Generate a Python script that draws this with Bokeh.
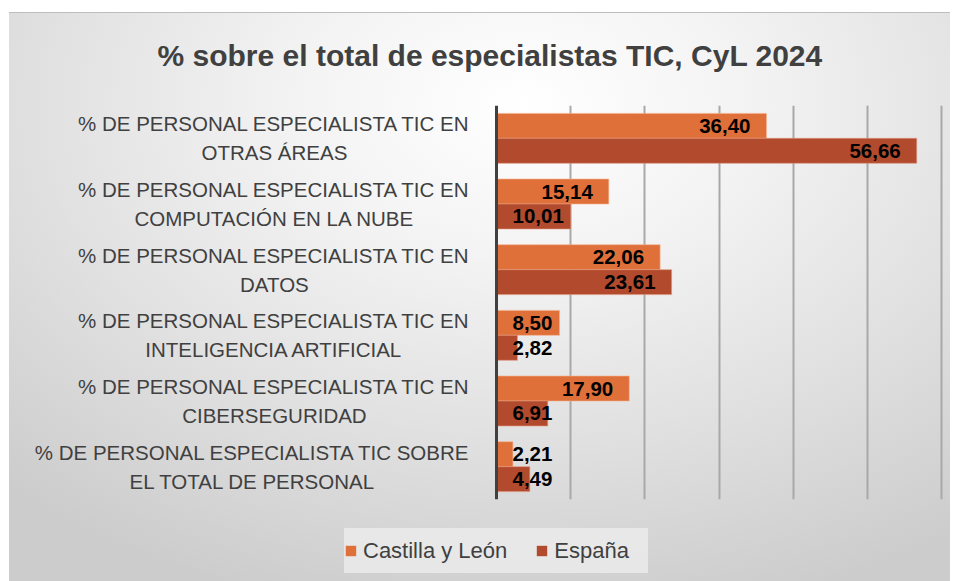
from bokeh.plotting import figure
from bokeh.layouts import column
from bokeh.models import (ColumnDataSource, FactorRange, Range1d, FixedTicker, Grid,
                          Legend, LegendItem, Span)
from bokeh.transform import dodge
from bokeh.embed import file_html
from bokeh.resources import INLINE
from bokeh.core.properties import value

# ---------------- data ----------------
categories = [
    "% DE PERSONAL ESPECIALISTA TIC EN\nOTRAS ÁREAS",
    "% DE PERSONAL ESPECIALISTA TIC EN\nCOMPUTACIÓN EN LA NUBE",
    "% DE PERSONAL ESPECIALISTA TIC EN\nDATOS",
    "% DE PERSONAL ESPECIALISTA TIC EN\nINTELIGENCIA ARTIFICIAL",
    "% DE PERSONAL ESPECIALISTA TIC EN\nCIBERSEGURIDAD",
    "% DE PERSONAL ESPECIALISTA TIC SOBRE\nEL TOTAL DE PERSONAL",
]
castilla_leon = [36.40, 15.14, 22.06, 8.50, 17.90, 2.21]
espana = [56.66, 10.01, 23.61, 2.82, 6.91, 4.49]
series_names = ["Castilla y León", "España"]
title_text = "% sobre el total de especialistas TIC, CyL 2024"
x_max = 60
x_step = 10

# ---------------- style ----------------
COL_CYL = "#E0703A"
COL_ESP = "#B24A2E"
TXT = "#404040"
FONT = "Liberation Sans"
CAT_FS = 20.5

W = 950
H_MAIN, H_LEG = 520, 61
AXIS_X = 496            # pixel column of the value axis
B_LEFT, B_RIGHT, B_TOP, B_BOTTOM = 9, 7, 105, 21
frame_w = W - B_LEFT - B_RIGHT
px_per_unit = (W - B_RIGHT - 2 - AXIS_X) / x_max
x_start = -(AXIS_X - B_LEFT) / px_per_unit
x_end = x_start + frame_w / px_per_unit

p = figure(width=W, height=H_MAIN, output_backend="svg", toolbar_location=None,
           y_range=FactorRange(factors=list(reversed(categories)), range_padding=0),
           x_range=Range1d(x_start, x_end),
           x_axis_location=None, y_axis_location=None,
           min_border_left=B_LEFT, min_border_right=B_RIGHT,
           min_border_top=B_TOP, min_border_bottom=B_BOTTOM)
p.border_fill_color = None
p.background_fill_color = None
p.outline_line_color = None
p.center = [r for r in p.center if not isinstance(r, Grid)]

# vertical grid lines at 10, 20, ... 60
p.add_layout(Grid(dimension=0, ticker=FixedTicker(ticks=list(range(x_step, x_max + 1, x_step))),
                  grid_line_color="#a8a8a8", grid_line_width=2))
# value axis line at 0
p.add_layout(Span(location=0, dimension="height", line_color="#404040", line_width=3))

src = ColumnDataSource(dict(cat=categories, cyl=castilla_leon, esp=espana))

off = 0.19
bh = 0.38
r1 = p.hbar(y=dodge("cat", off, range=p.y_range), left=0, right="cyl", height=bh,
            source=src, fill_color=COL_CYL, line_color="#f4b08a", line_width=1, line_alpha=0.6)
r2 = p.hbar(y=dodge("cat", -off, range=p.y_range), left=0, right="esp", height=bh,
            source=src, fill_color=COL_ESP, line_color="#e0957a", line_width=1, line_alpha=0.6)

# data labels: inside end, pushed right when too small
LBL_FS = 20.5
pad = 16 / px_per_unit
def label_sources(vals):
    right = dict(cat=[], x=[], t=[])
    left = dict(cat=[], x=[], t=[])
    for c, v in zip(categories, vals):
        t = f"{v:.2f}".replace(".", ",")
        w = 10.4 * len(t) / px_per_unit
        if v - pad - w < pad:
            left["cat"].append(c); left["x"].append(pad); left["t"].append(t)
        else:
            right["cat"].append(c); right["x"].append(v - pad); right["t"].append(t)
    return ColumnDataSource(right), ColumnDataSource(left)

for vals, o in ((castilla_leon, off), (espana, -off)):
    rs, ls = label_sources(vals)
    for s, al in ((rs, "right"), (ls, "left")):
        p.text(x="x", y=dodge("cat", o, range=p.y_range), text="t", source=s,
               text_align=al, text_baseline="middle", text_color="black",
               text_font=value(FONT), text_font_style="bold", text_font_size=f"{LBL_FS}px")

# category labels: block right-aligned next to the axis, lines centred
ARIAL = {" ": 278, "%": 889, "A": 667, "B": 667, "C": 722, "D": 722, "E": 667, "F": 611,
         "G": 778, "H": 722, "I": 278, "L": 556, "M": 833, "N": 722, "O": 778, "P": 667,
         "R": 722, "S": 667, "T": 611, "U": 722, "Y": 667, "Á": 667, "Ó": 778}
def text_w(s):
    return sum(ARIAL.get(ch, 600) for ch in s) / 1000 * CAT_FS
right_edge_px = 25     # gap between label block and axis
cx = []
for c in categories:
    wmax = max(text_w(line) for line in c.split("\n"))
    cx.append(-(right_edge_px + wmax / 2) / px_per_unit)
p.text(x=cx, y=categories, text=categories, text_align="center", text_baseline="middle",
       text_font=value(FONT), text_font_size=f"{CAT_FS}px", text_color=TXT,
       text_line_height=1.25)

# title
p.title.text = title_text
p.title.align = "left"
p.title.offset = 157 - B_LEFT
p.title.standoff = 68
p.title.text_font = FONT
p.title.text_font_style = "bold"
p.title.text_font_size = "30px"
p.title.text_color = TXT

# legend strip
pl = figure(width=W, height=H_LEG, output_backend="svg", toolbar_location=None,
            x_range=Range1d(0, 1), y_range=Range1d(0, 1),
            x_axis_location=None, y_axis_location=None, min_border=0)
pl.border_fill_color = None
pl.background_fill_color = None
pl.outline_line_color = None
pl.center = [r for r in pl.center if not isinstance(r, Grid)]
l1 = pl.hbar(y="cat", right="cyl", height=1, source=src, fill_color=COL_CYL,
             line_color=None, visible=False)
l2 = pl.hbar(y="cat", right="esp", height=1, source=src, fill_color=COL_ESP,
             line_color=None, visible=False)
legend = Legend(items=[LegendItem(label=series_names[0], renderers=[l1]),
                       LegendItem(label=series_names[1], renderers=[l2])],
                orientation="horizontal", location=(335, 8),
                label_text_font=FONT, label_text_font_size="22px", label_text_color=TXT,
                glyph_width=13, glyph_height=13, label_standoff=6, spacing=28,
                label_height=45, label_width=94,
                padding=12, background_fill_color="#ececec", background_fill_alpha=0.8,
                border_line_color=None)
pl.add_layout(legend)

layout = column(p, pl, spacing=0, styles={"background": (
    "linear-gradient(#ffffff,#ffffff) 0 0/100% 12px no-repeat, "
    "linear-gradient(#ffffff,#ffffff) 0 0/9px 100% no-repeat, "
    "linear-gradient(#bdbdbd,#bdbdbd) 0 12px/100% 1px no-repeat, "
    "radial-gradient(ellipse 80% 90% at 55% 18%, #ffffff 0%, #f3f3f3 30%, #e0e0e0 65%, #cccccc 100%)")})

open("out.html", "w").write(file_html(layout, INLINE))
